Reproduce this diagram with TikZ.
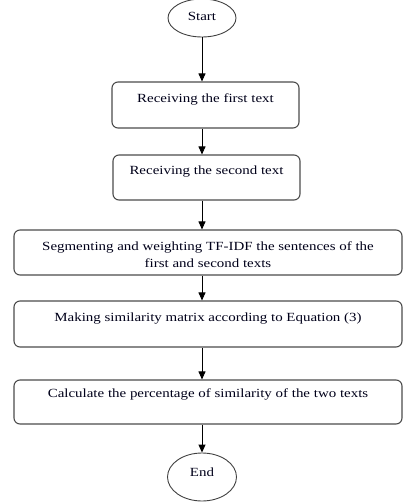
\documentclass[tikz,border=0pt]{standalone}
\usepackage{fontspec}
\setmainfont{Liberation Serif}[FakeStretch=1.2]
\usetikzlibrary{shapes.geometric,arrows.meta}
\begin{document}
\begin{tikzpicture}[x=1bp,y=-1bp,
  stepbox/.style={draw=black!70,line width=1.1bp,rounded corners=6bp,rectangle,inner sep=0pt},
  term/.style={draw=black!75,line width=0.9bp,ellipse,inner sep=0pt},
  lbl/.style={font=\fontsize{12.5}{17}\selectfont,text=black!90!blue,inner sep=0pt,align=center,anchor=base},
  arr/.style={draw=black,line width=0.9bp,-{Triangle[length=8bp,width=7bp]}}]
\useasboundingbox (0,0) rectangle (406,502);
\node[term,minimum width=68bp,minimum height=38bp] (start) at (202,18) {};
\node[lbl] (tstart) at (202,21) {Start};
\node[stepbox,minimum width=187bp,minimum height=46bp] (b1) at (205.5,105) {};
\node[lbl] (t1) at (205.5,103) {Receiving the first text};
\node[stepbox,minimum width=187bp,minimum height=45bp] (b2) at (206.5,177.5) {};
\node[lbl] (t2) at (206.5,175) {Receiving the second text};
\node[stepbox,minimum width=388bp,minimum height=45bp] (b3) at (208,252.5) {};
\node[lbl] (t3) at (208,267) {Segmenting and weighting TF-IDF the sentences of the\\first and second texts};
\node[stepbox,minimum width=388bp,minimum height=46bp] (b4) at (208,324) {};
\node[lbl] (t4) at (208,321) {Making similarity matrix according to Equation (3)};
\node[stepbox,minimum width=388bp,minimum height=44bp] (b5) at (208,402) {};
\node[lbl] (t5) at (208,397) {Calculate the percentage of similarity of the two texts};
\node[term,minimum width=69bp,minimum height=48bp] (end) at (202,477) {};
\node[lbl] (tend) at (202,476) {End};
\draw[arr] (start.south) -- (start.south |- b1.north);
\draw[arr] (start.south |- b1.south) -- (start.south |- b2.north);
\draw[arr] (start.south |- b2.south) -- (start.south |- b3.north);
\draw[arr] (start.south |- b3.south) -- (start.south |- b4.north);
\draw[arr] (start.south |- b4.south) -- (start.south |- b5.north);
\draw[arr] (start.south |- b5.south) -- (end.north);
\end{tikzpicture}
\end{document}
